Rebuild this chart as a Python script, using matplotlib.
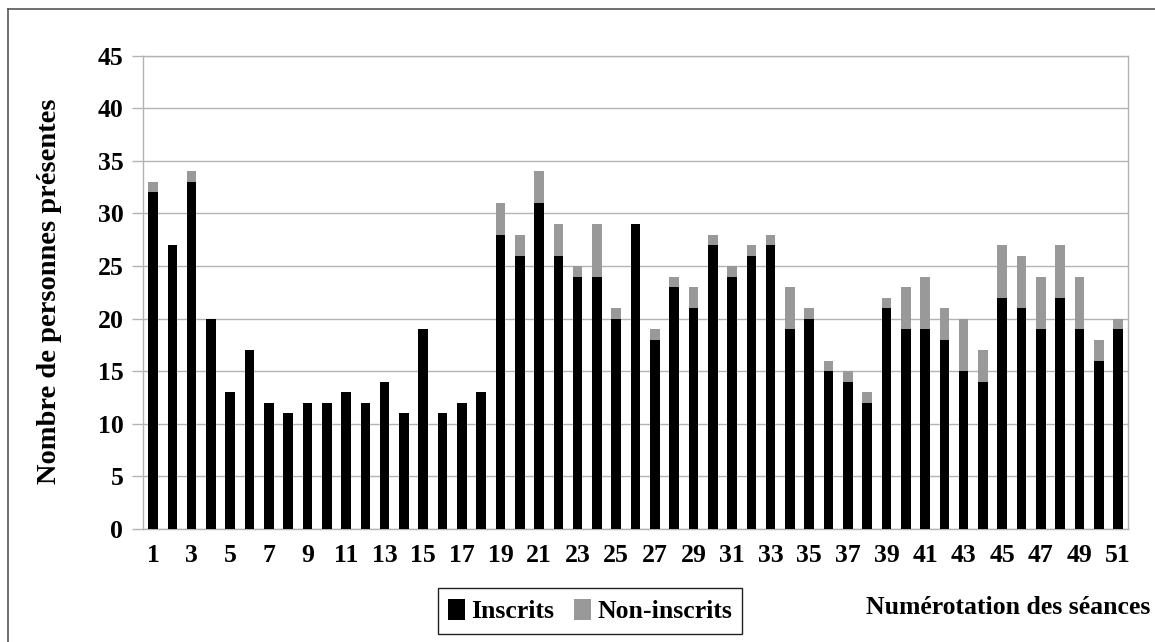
import matplotlib
matplotlib.use("Agg")
import matplotlib.pyplot as plt
from matplotlib.lines import Line2D
import numpy as np

# ---- data ----
seances = list(range(1, 52))
inscrits = [32, 27, 33, 20, 13, 17, 12, 11, 12, 12, 13, 12, 14, 11, 19, 11, 12, 13,
            28, 26, 31, 26, 24, 24, 20, 29, 18, 23, 21, 27, 24, 26, 27, 19, 20, 15,
            14, 12, 21, 19, 19, 18, 15, 14, 22, 21, 19, 22, 19, 16, 19]
non_inscrits = [1, 0, 1, 0, 0, 0, 0, 0, 0, 0, 0, 0, 0, 0, 0, 0, 0, 0,
                3, 2, 3, 3, 1, 5, 1, 0, 1, 1, 2, 1, 1, 1, 1, 4, 1, 1,
                1, 1, 1, 4, 5, 3, 5, 3, 5, 5, 5, 5, 5, 2, 1]
yticks = list(range(0, 50, 5))
series_labels = ["Inscrits", "Non-inscrits"]
xlabel = "Numérotation des séances"
ylabel = "Nombre de personnes présentes"

FONT = "Liberation Serif"
FS = 18.5
GRID = "#b3b3b3"

W, H = 1155, 642
fig = plt.figure(figsize=(W / 100, H / 100), dpi=100)
ax = fig.add_axes([143.4 / W, 1 - 529 / H, (1127.7 - 143.4) / W, (529 - 55.7) / H])

x = np.arange(len(seances))
b1 = ax.bar(x, inscrits, width=0.5, color="#000000", label=series_labels[0], zorder=3)
b2 = ax.bar(x, non_inscrits, width=0.5, bottom=inscrits, color="#999999",
            label=series_labels[1], zorder=3)

ax.set_xlim(-0.5, len(seances) - 0.5)
ax.set_ylim(0, 45)
ax.set_yticks(yticks)
ax.set_yticklabels([str(v) for v in yticks], fontfamily=FONT, fontweight="bold", fontsize=FS)
ax.set_xticks(x[::2])
ax.set_xticklabels([str(s) for s in seances[::2]], fontfamily=FONT, fontweight="bold", fontsize=FS)

ax.yaxis.grid(True, color=GRID, linewidth=1.0, zorder=0)
ax.set_axisbelow(True)
ax.tick_params(axis="y", length=8, width=1, color=GRID, pad=6.5)
ax.tick_params(axis="x", length=0, pad=11)
for sp in ax.spines.values():
    sp.set_color(GRID)
    sp.set_linewidth(1.0)

fig.text(50 / W, 1 - 291 / H, ylabel, rotation=90, ha="center", va="center",
         fontfamily=FONT, fontweight="bold", fontsize=20.5)
fig.text(1150 / W, 1 - 607 / H, xlabel, ha="right", va="center",
         fontfamily=FONT, fontweight="bold", fontsize=FS)

leg = fig.legend(handles=[b1, b2], labels=series_labels, ncol=2, loc="center",
                 bbox_to_anchor=(590 / W, 1 - 611 / H), bbox_transform=fig.transFigure,
                 prop={"family": FONT, "weight": "bold", "size": FS},
                 handlelength=0.66, handleheight=0.9, handletextpad=0.25,
                 columnspacing=0.75, borderpad=0.4, fancybox=False, framealpha=1,
                 edgecolor="#222222")
leg.get_frame().set_linewidth(1.0)

# outer border of the chart frame
bx, by = 8 / W, 1 - 9 / H
fig.add_artist(Line2D([bx, bx], [0, by], transform=fig.transFigure, color="#555555", lw=1.2))
fig.add_artist(Line2D([bx, 1], [by, by], transform=fig.transFigure, color="#555555", lw=1.2))

fig.savefig("out.png", dpi=100)
